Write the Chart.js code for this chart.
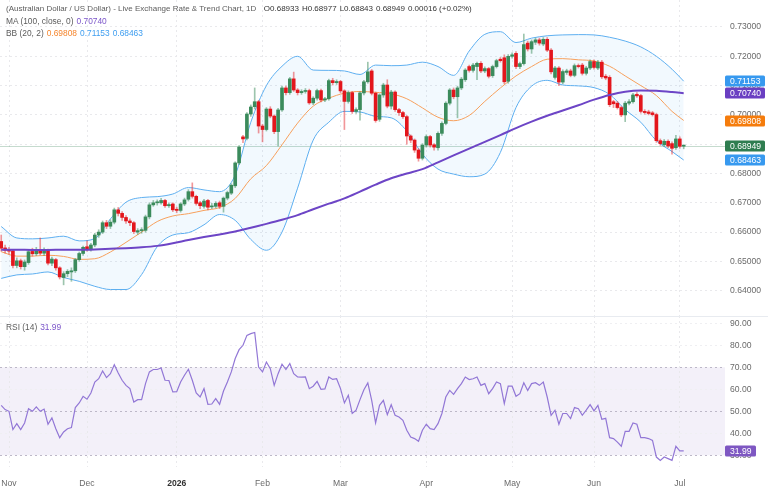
<!DOCTYPE html>
<html>
<head>
<meta charset="utf-8">
<script src="https://cdn.jsdelivr.net/npm/chart.js@4.4.1/dist/chart.umd.min.js"></script>
<style>
  html, body { margin: 0; padding: 0; background: #fff; }
  #wrap { position: relative; width: 768px; height: 497px; overflow: hidden;
          font-family: Helvetica, Arial, "Liberation Sans", sans-serif; }
  canvas { position: absolute; left: 0; }
  #price { top: 0; }
  #rsi { top: 316px; }
  .sep { position: absolute; left: 0; top: 316px; width: 768px; height: 1px; background: #e8ebf0; }
  .hdr { position: absolute; left: 6px; font-size: 8.4px; line-height: 10px; color: #5c5c5c; white-space: nowrap; }
  .hdr span { margin-left: 3px; }
  .title { font-size: 8px; }
  .ohlc { color: #333; }
  .ma { color: #7b55c9; }
  .bbm { color: #f5862e; }
  .bbb { color: #3f9ef0; }
</style>
</head>
<body>
<div id="wrap">
  <canvas id="price" width="768" height="316"></canvas>
  <canvas id="rsi" width="768" height="181"></canvas>
  <div class="sep"></div>
  <div class="hdr title" style="top:4px">(Australian Dollar / US Dollar) - Live Exchange Rate &amp; Trend Chart, 1D&nbsp;
    <span class="ohlc">O0.68933</span><span class="ohlc">H0.68977</span><span class="ohlc">L0.68843</span><span class="ohlc">0.68949</span><span class="ohlc">0.00016 (+0.02%)</span></div>
  <div class="hdr" style="top:16px">MA (100, close, 0)<span class="ma">0.70740</span></div>
  <div class="hdr" style="top:28px">BB (20, 2)<span class="bbm">0.69808</span><span class="bbb">0.71153</span><span class="bbb">0.68463</span></div>
  <div class="hdr" style="top:322px">RSI (14)<span class="ma">31.99</span></div>
</div>
<script>
// daily candles, 30 Oct 2025 .. 2 Jul 2026 (index = trading day)
const opens = [
  .6568,.6546,.6540,.6536,.6486,.6502,.6482,.6496,.6534,.6526,
  .6538,.6528,.6537,.6494,.6506,.6478,.6445,.6458,.6464,.6468,
  .6506,.6527,.6550,.6542,.6556,.6590,.6600,.6632,.6620,.6634,
  .6676,.6664,.6650,.6638,.6632,.6600,.6605,.6606,.6652,.6693,
  .6700,.6700,.6708,.6690,.6696,.6678,.6674,.6696,.6712,.6738,
  .6722,.6700,.6688,.6708,.6686,.6688,.6700,.6688,.6716,.6733,
  .6758,.6836,.6925,.6920,.7003,.7028,.7045,.6962,.6950,.7020,
  .6996,.6943,.7017,.7092,.7076,.7123,.7085,.7076,.7080,.7083,
  .7041,.7057,.7083,.7051,.7055,.7117,.7110,.7114,.7082,.7046,
  .7076,.7012,.7018,.7075,.7113,.7150,.7074,.6985,.7068,.7102,
  .7030,.7078,.7018,.7008,.6994,.6928,.6914,.6880,.6852,.6897,
  .6926,.6898,.6888,.6937,.6971,.7040,.7085,.7062,.7092,.7120,
  .7165,.7152,.7165,.7176,.7150,.7158,.7134,.7165,.7190,.7195,
  .7115,.7200,.7210,.7165,.7175,.7245,.7225,.7248,.7256,.7242,
  .7258,.7221,.7128,.7160,.7112,.7145,.7150,.7135,.7168,.7170,
  .7142,.7160,.7182,.7160,.7180,.7132,.7128,.7045,.7040,.7025,
  .7000,.7040,.7045,.7070,.7066,.7012,.7010,.7007,.7001,.6912,
  .6898,.6910,.6902,.6888,.6918,.68933
];
const highs = [
  .6590,.6556,.6548,.6540,.6512,.6508,.6505,.6540,.6545,.6548,
  .6580,.6546,.6542,.6515,.6510,.6482,.6465,.6472,.6478,.6510,
  .6532,.6552,.6570,.6562,.6596,.6608,.6638,.6640,.6642,.6682,
  .6684,.6670,.6656,.6645,.6636,.6612,.6615,.6658,.6700,.6708,
  .6710,.6715,.6712,.6700,.6700,.6685,.6700,.6716,.6745,.6768,
  .6726,.6705,.6712,.6712,.6698,.6704,.6706,.6720,.6740,.6765,
  .6840,.6895,.6930,.7008,.7034,.7092,.7050,.6968,.7025,.7028,
  .7000,.7022,.7098,.7098,.7128,.7146,.7090,.7086,.7090,.7088,
  .7062,.7088,.7088,.7060,.7122,.7125,.7120,.7118,.7086,.7082,
  .7080,.7024,.7080,.7118,.7180,.7155,.7078,.7072,.7108,.7120,
  .7084,.7082,.7022,.7012,.6998,.6932,.6918,.6885,.6902,.6932,
  .6930,.6902,.6942,.6976,.7045,.7090,.7092,.7098,.7128,.7158,
  .7170,.7176,.7180,.7182,.7164,.7162,.7170,.7190,.7196,.7205,
  .7206,.7212,.7216,.7180,.7276,.7252,.7256,.7262,.7262,.7264,
  .7264,.7226,.7166,.7165,.7154,.7156,.7156,.7174,.7174,.7176,
  .7166,.7188,.7188,.7186,.7186,.7138,.7134,.7050,.7046,.7030,
  .7046,.7052,.7074,.7076,.7070,.7018,.7016,.7012,.7006,.6918,
  .6916,.6915,.6908,.6930,.6925,.68977
];
const lows = [
  .6535,.6528,.6525,.6478,.6478,.6474,.6470,.6490,.6518,.6520,
  .6522,.6520,.6488,.6485,.6470,.6440,.6420,.6448,.6432,.6462,
  .6500,.6520,.6535,.6535,.6550,.6582,.6595,.6612,.6612,.6628,
  .6655,.6640,.6630,.6622,.6595,.6592,.6596,.6600,.6645,.6688,
  .6692,.6695,.6684,.6684,.6670,.6666,.6668,.6690,.6706,.6716,
  .6692,.6680,.6682,.6676,.6680,.6682,.6680,.6668,.6710,.6728,
  .6752,.6830,.6905,.6915,.6995,.7020,.6938,.6908,.6945,.6990,
  .6936,.6894,.7012,.7068,.7070,.7080,.7068,.7070,.7074,.7036,
  .7035,.7050,.7044,.7045,.7050,.7102,.7104,.7075,.6950,.7040,
  .7005,.7005,.6982,.7068,.7108,.7068,.6975,.6978,.7060,.7024,
  .7020,.7012,.6998,.6988,.6900,.6905,.6872,.6842,.6846,.6890,
  .6890,.6880,.6880,.6930,.6966,.7034,.7055,.6990,.7086,.7114,
  .7146,.7146,.7120,.7144,.7144,.7126,.7128,.7160,.7180,.7106,
  .7108,.7194,.7158,.7158,.7170,.7218,.7210,.7240,.7238,.7236,
  .7216,.7140,.7122,.7100,.7106,.7138,.7130,.7130,.7160,.7136,
  .7136,.7154,.7156,.7154,.7124,.7120,.7028,.7025,.7020,.6994,
  .6977,.7034,.7040,.7060,.7006,.7002,.7000,.6996,.6906,.6896,
  .6892,.6888,.6866,.6882,.6886,.68843
];
const closes = [
  .6545,.6538,.6535,.6486,.6502,.6482,.6498,.6533,.6526,.6538,
  .6528,.6536,.6494,.6508,.6478,.6447,.6458,.6466,.6468,.6506,
  .6527,.6548,.6542,.6556,.6590,.6600,.6632,.6620,.6634,.6676,
  .6664,.6650,.6638,.6632,.6602,.6605,.6606,.6652,.6693,.6700,
  .6703,.6708,.6690,.6694,.6676,.6674,.6696,.6710,.6738,.6722,
  .6698,.6690,.6706,.6685,.6688,.6698,.6688,.6716,.6735,.6760,
  .6836,.6890,.6918,.7003,.7027,.7045,.6962,.6950,.7020,.6996,
  .6943,.7017,.7092,.7076,.7123,.7085,.7076,.7080,.7083,.7041,
  .7057,.7083,.7051,.7055,.7117,.7110,.7114,.7082,.7046,.7076,
  .7012,.7018,.7075,.7113,.7147,.7074,.6981,.7068,.7102,.7030,
  .7078,.7018,.7008,.6994,.6928,.6914,.6880,.6852,.6897,.6926,
  .6897,.6890,.6937,.6971,.7040,.7085,.7062,.7092,.7122,.7153,
  .7152,.7170,.7176,.7150,.7158,.7132,.7165,.7185,.7185,.7113,
  .7200,.7205,.7165,.7175,.7240,.7225,.7250,.7256,.7245,.7258,
  .7221,.7147,.7160,.7112,.7148,.7150,.7135,.7168,.7165,.7142,
  .7160,.7182,.7162,.7180,.7130,.7126,.7035,.7038,.7025,.7000,
  .7040,.7045,.7068,.7065,.7012,.7008,.7005,.7001,.6912,.6902,
  .6910,.6894,.6886,.6918,.6893,.68949
];
const rsi = [
  52.7,50.8,50,41.7,44.4,41.7,44.7,51.2,50,52,
  50,51,44.1,47,42.1,38,40.6,42.1,42.6,51.7,
  53.8,56.8,55.5,58.3,63.3,64.8,68.3,65.3,67.1,71.2,
  67.4,64.1,61.8,60.3,54.2,55.3,55.3,62.6,67.9,69,
  69,69.7,64.1,64,58.8,58.9,63.3,66.4,69.1,64.1,
  58.3,56.5,60.3,53.2,53.3,55.8,53.2,59.2,63.3,67.9,
  74,78,80,84.5,85.3,85.8,70.1,67.9,72.4,69.4,
  61.8,67.1,71.4,69,71.7,67.1,65.6,65.5,65.6,60.3,
  61.4,63.6,60,60.2,65.6,64.5,64.8,60.3,53.8,57.3,
  49,50.5,55.3,59.8,62.9,55,44.7,52.7,55,48.5,
  53,48.2,47.4,45.9,41.4,38.3,37.6,36.4,41.4,44.1,
  42.1,41.7,44.4,49,56.5,59.5,57.7,60.3,62.6,65.6,
  64.4,64.8,65.6,61.8,62.6,58,60.3,63.3,62.6,53.5,
  61.4,61.4,56.8,58,63,59.5,62.6,63,61.8,63.3,
  56.5,48.2,50.5,44.1,49,49,46.7,51.7,51.2,48.2,
  50.5,53,50.2,52.7,46.4,46.8,38,37.6,36,34.1,
  40.9,40.9,44.7,44.1,38,38,37.6,36.8,29.2,27.7,
  29.2,28.5,27.7,34.1,32,31.99
];

// indicator lines at every 4th day
const lineIdx = [0,4,8,12,16,20,24,28,32,36, 40,44,48,52,56,60,64,68,72,76,
  80,84,88,92,96,100,104,108,112,116, 120,124,128,132,136,140,144,148,152,156, 160,164,168,172,175];
const bbUpper = [
  .6619,.6580,.6577,.6580,.6586,.6570,.6578,.6645,.6702,.6718,
  .6721,.6730,.6752,.6744,.6738,.6795,.6975,.7100,.7166,.7200,
  .7153,.7152,.7150,.7138,.7170,.7168,.7170,.7180,.7165,.7135,
  .7218,.7275,.7284,.7247,.7262,.7270,.7273,.7274,.7273,.7265,
  .7252,.7232,.7200,.7156,.7115
];
const bbMid = [
  .6533,.6518,.6518,.6521,.6517,.6507,.6509,.6532,.6565,.6600,
  .6636,.6655,.6663,.6674,.6684,.6715,.6782,.6827,.6898,.6972,
  .7030,.7057,.7074,.7080,.7077,.7072,.7055,.7024,.6992,.6980,
  .6998,.7046,.7092,.7133,.7165,.7190,.7192,.7188,.7184,.7166,
  .7133,.7100,.7066,.7012,.6981
];
const bbLower = [
  .6442,.6454,.6457,.6464,.6445,.6432,.6415,.6404,.6404,.6455,
  .6550,.6590,.6598,.6625,.6660,.6640,.6575,.6538,.6600,.6750,
  .6914,.6975,.7012,.7010,.6995,.6990,.6945,.6866,.6815,.6798,
  .6789,.6798,.6872,.7025,.7098,.7118,.7102,.7099,.7093,.7070,
  .7018,.6975,.6912,.6875,.6846
];
const ma100 = [
  .6540,.6540,.6539,.6539,.6540,.6540,.6541,.6543,.6545,.6548,
  .6553,.6562,.6573,.6583,.6592,.6602,.6615,.6628,.6642,.6658,
  .6678,.6697,.6715,.6738,.6762,.6784,.6800,.6815,.6838,.6862,
  .6885,.6908,.6931,.6955,.6977,.6997,.7015,.7033,.7052,.7068,
  .7079,.7083,.7082,.7078,.7074
];

// month ticks (index of first trading day)
const tickIdx = [2, 22, 45, 67, 87, 109, 131, 152, 174];
const tickLabels = ['Nov', 'Dec', '2026', 'Feb', 'Mar', 'Apr', 'May', 'Jun', 'Jul'];
const priceTicks = [0.64, 0.65, 0.66, 0.67, 0.68, 0.69, 0.70, 0.71, 0.72, 0.73];
const rsiTicks = [30, 40, 50, 60, 70, 80, 90];
const rsiLevels = [30, 50, 70];

// last values shown in the right-hand tags
const priceTagValues = [0.71153, 0.70740, 0.69808, 0.68949, 0.68463];
const lastPrice = 0.68949;
const lastRsi = 31.99;

const UP = '#3b8b5c';
const DOWN = '#e3161c';
const UP_WICK = 'rgba(59,139,92,0.5)';
const DOWN_WICK = 'rgba(227,22,28,0.45)';
const BB_LINE = '#5eaff0';
const BB_FILL = 'rgba(66,165,245,0.07)';
const BB_MID = '#f7a05c';
const MA_COLOR = '#6d45c6';
const RSI_COLOR = '#9277d6';
const GRID = '#e9e9ec';
const TAG_COLORS = ['#3799ef', '#6a3fc2', '#f57c0c', '#2f7d50', '#3799ef'];

const X_MIN = -0.31;
const X_MAX = 185.59;
const P_MAX = 0.739215;
const P_MIN = 0.631365;
const R_MAX = 93.32;
const R_MIN = 24.68;
const AXIS_W = 43;

Chart.defaults.font.family = 'Helvetica, Arial, "Liberation Sans", sans-serif';
Chart.defaults.font.size = 8.6;
Chart.defaults.color = '#6a6a6a';

const noPad = (s) => {
  s.paddingTop = 0;
  s.paddingBottom = 0;
  s.paddingLeft = 0;
  s.paddingRight = 0;
};
const isUp = (i) => closes[i] >= opens[i];
const linePts = (vals) => vals.map((y, i) => ({ x: lineIdx[i], y }));

const monthAxis = (showLabels) => ({
  type: 'linear',
  min: X_MIN,
  max: X_MAX,
  offset: false,
  grid: { color: GRID, drawTicks: false, offset: false },
  border: { display: false, dash: [2, 3] },
  ticks: {
    display: showLabels,
    padding: 11,
    autoSkip: false,
    maxRotation: 0,
    callback: (v) => tickLabels[tickIdx.indexOf(v)],
    color: (ctx) => (ctx.tick && ctx.tick.value === 45 ? '#333' : '#6a6a6a'),
    font: (ctx) => ({ size: 8.6, weight: ctx.tick && ctx.tick.value === 45 ? 'bold' : 'normal' }),
  },
  afterBuildTicks: (s) => {
    s.ticks = tickIdx.map((v) => ({ value: v }));
  },
  afterFit: (s) => {
    s.height = showLabels ? 30 : 0;
    noPad(s);
  },
});

const drawTag = (ctx, x, y, w, text, color) => {
  ctx.fillStyle = color;
  ctx.beginPath();
  ctx.roundRect(x, Math.round(y) - 5.5, w, 11, 1.5);
  ctx.fill();
  ctx.fillStyle = '#fff';
  ctx.font = '8.6px Helvetica, Arial, "Liberation Sans", sans-serif';
  ctx.textBaseline = 'middle';
  ctx.textAlign = 'left';
  ctx.fillText(text, x + 5, Math.round(y) + 0.5);
};

const priceExtras = {
  id: 'priceExtras',
  beforeDatasetsDraw(chart) {
    const { ctx, chartArea: a, scales: { y } } = chart;
    const py = Math.round(y.getPixelForValue(lastPrice)) + 0.5;
    ctx.save();
    ctx.strokeStyle = 'rgba(47,125,80,0.28)';
    ctx.lineWidth = 1;
    ctx.beginPath();
    ctx.moveTo(a.left, py);
    ctx.lineTo(a.right, py);
    ctx.stroke();
    ctx.restore();
  },
  afterDraw(chart) {
    const { ctx, chartArea: a, scales: { y } } = chart;
    ctx.save();
    priceTagValues.forEach((v, i) => {
      drawTag(ctx, a.right, y.getPixelForValue(v), 40, v.toFixed(5), TAG_COLORS[i]);
    });
    ctx.restore();
  },
};

const rsiExtras = {
  id: 'rsiExtras',
  beforeDraw(chart) {
    const { ctx, chartArea: a, scales: { y } } = chart;
    const top = y.getPixelForValue(70);
    const bottom = y.getPixelForValue(30);
    ctx.save();
    ctx.fillStyle = 'rgba(126,87,194,0.09)';
    ctx.fillRect(a.left, top, a.right - a.left, bottom - top);
    ctx.restore();
  },
  afterDraw(chart) {
    const { ctx, chartArea: a, scales: { y } } = chart;
    ctx.save();
    drawTag(ctx, a.right, y.getPixelForValue(lastRsi), 31, lastRsi.toFixed(2), '#7e57c2');
    ctx.restore();
  },
};

new Chart(document.getElementById('price'), {
  type: 'bar',
  data: {
    datasets: [
      {
        type: 'line',
        data: linePts(bbUpper),
        borderColor: BB_LINE,
        borderWidth: 1,
        backgroundColor: BB_FILL,
        fill: '+1',
        pointRadius: 0,
        cubicInterpolationMode: 'monotone',
        order: 10,
      },
      {
        type: 'line',
        data: linePts(bbLower),
        borderColor: BB_LINE,
        borderWidth: 1,
        fill: false,
        pointRadius: 0,
        cubicInterpolationMode: 'monotone',
        order: 10,
      },
      {
        type: 'line',
        data: linePts(bbMid),
        borderColor: BB_MID,
        borderWidth: 1,
        fill: false,
        pointRadius: 0,
        cubicInterpolationMode: 'monotone',
        order: 9,
      },
      {
        data: closes.map((_, i) => ({ x: i, y: [lows[i], highs[i]] })),
        backgroundColor: (ctx) => (isUp(ctx.dataIndex) ? UP_WICK : DOWN_WICK),
        barThickness: 1,
        grouped: false,
        borderWidth: 0,
        order: 5,
      },
      {
        data: closes.map((c, i) => ({ x: i, y: [opens[i], c] })),
        backgroundColor: (ctx) => (isUp(ctx.dataIndex) ? UP : DOWN),
        barThickness: 3,
        minBarLength: 1,
        grouped: false,
        borderWidth: 0,
        order: 4,
      },
      {
        type: 'line',
        data: linePts(ma100),
        borderColor: MA_COLOR,
        borderWidth: 2,
        fill: false,
        pointRadius: 0,
        cubicInterpolationMode: 'monotone',
        order: 1,
      },
    ],
  },
  options: {
    responsive: false,
    animation: false,
    events: [],
    layout: { padding: 0 },
    plugins: { legend: { display: false }, tooltip: { enabled: false } },
    scales: {
      x: monthAxis(false),
      y: {
        position: 'right',
        min: P_MIN,
        max: P_MAX,
        grid: { color: GRID, drawTicks: false },
        border: { display: false, dash: [2, 3] },
        ticks: { padding: 5, callback: (v) => v.toFixed(5) },
        afterBuildTicks: (s) => {
          s.ticks = priceTicks.map((v) => ({ value: v }));
        },
        afterFit: (s) => {
          s.width = AXIS_W;
          noPad(s);
        },
      },
    },
  },
  plugins: [priceExtras],
});

new Chart(document.getElementById('rsi'), {
  type: 'line',
  data: {
    datasets: [
      {
        data: rsi.map((y, i) => ({ x: i, y })),
        borderColor: RSI_COLOR,
        borderWidth: 1.2,
        pointRadius: 0,
        tension: 0,
        fill: false,
      },
    ],
  },
  options: {
    responsive: false,
    animation: false,
    events: [],
    layout: { padding: 0 },
    plugins: { legend: { display: false }, tooltip: { enabled: false } },
    scales: {
      x: monthAxis(true),
      y: {
        position: 'right',
        min: R_MIN,
        max: R_MAX,
        grid: {
          color: (ctx) => (ctx.tick && rsiLevels.includes(ctx.tick.value) ? '#bdb8c8' : '#efeff2'),
          drawTicks: false,
        },
        border: { display: false, dash: [2, 3] },
        ticks: { padding: 5, callback: (v) => v.toFixed(2) },
        afterBuildTicks: (s) => {
          s.ticks = rsiTicks.map((v) => ({ value: v }));
        },
        afterFit: (s) => {
          s.width = AXIS_W;
          noPad(s);
        },
      },
    },
  },
  plugins: [rsiExtras],
});
</script>
</body>
</html>
